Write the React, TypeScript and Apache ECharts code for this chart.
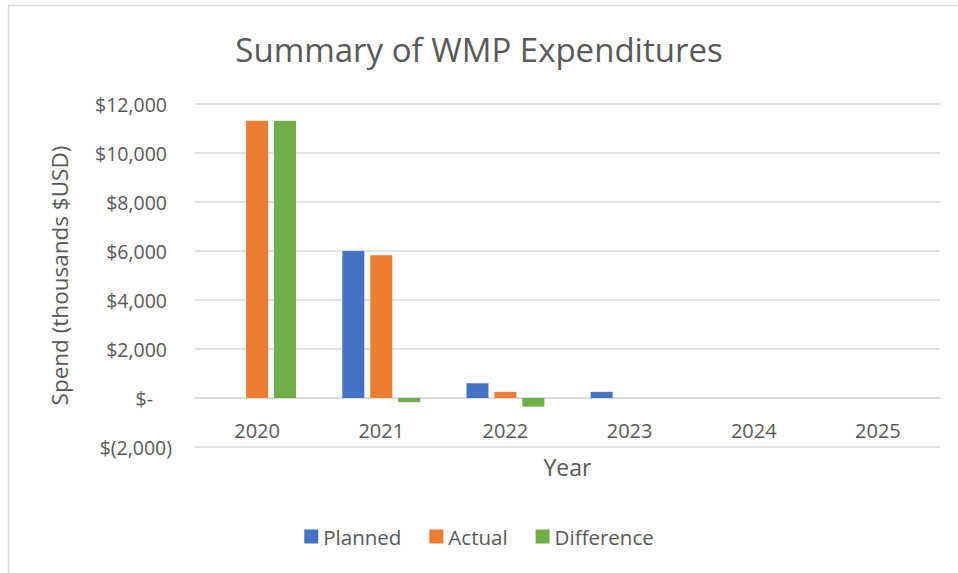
import React, { useEffect, useRef } from "react";
import * as echarts from "echarts";

const categories = ["2020", "2021", "2022", "2023", "2024", "2025"];
const planned = [0, 6000, 600, 250, 0, 0];
const actual: (number | null)[] = [11320, 5830, 250, null, null, null];
const difference: (number | null)[] = [11320, -170, -350, null, null, null];

const FONT = "'Open Sans', sans-serif";
const TXT = "#595959";

function fmt(v: number): string {
  if (v === 0) return "{z|$-}";
  const s = Math.abs(v).toLocaleString("en-US");
  return v < 0 ? `{n|$(${s})}` : `{p|$${s}}`;
}

export default function App() {
  const ref = useRef<HTMLDivElement>(null);
  useEffect(() => {
    document.body.style.margin = "0";
    const chart = echarts.init(ref.current!, null, { renderer: "svg" });
    const lbl = { color: TXT, fontSize: 19.5, fontFamily: FONT };
    chart.setOption({
      animation: false,
      backgroundColor: "#fff",
      textStyle: { fontFamily: FONT },
      title: {
        text: "Summary of WMP Expenditures",
        left: "center",
        top: 28,
        textStyle: { color: TXT, fontSize: 33, fontWeight: "normal", fontFamily: FONT },
      },
      graphic: [
        {
          type: "rect",
          shape: { x: 8.5, y: 5.5, width: 1000, height: 1000 },
          style: { fill: "none", stroke: "#d9d9d9", lineWidth: 1.5 },
          silent: true,
        },
      ],
      legend: {
        bottom: 21,
        left: "center",
        itemWidth: 14,
        itemHeight: 14,
        itemGap: 28,
        icon: "rect",
        textStyle: { color: TXT, fontSize: 20.5, fontFamily: FONT },
        data: ["Planned", "Actual", "Difference"],
      },
      grid: { left: 195, right: 18, top: 104, bottom: 126, containLabel: false },
      xAxis: {
        type: "category",
        data: categories,
        name: "Year",
        nameLocation: "middle",
        nameGap: 57,
        offset: -49,
        nameTextStyle: { color: TXT, fontSize: 23, fontFamily: FONT },
        axisLine: { onZero: false, lineStyle: { color: "#d9d9d9", width: 1.5 } },
        axisTick: { show: false },
        axisLabel: { color: TXT, fontSize: 20, margin: 22, fontFamily: FONT },
      },
      yAxis: {
        type: "value",
        min: -2000,
        max: 12000,
        interval: 2000,
        name: "Spend (thousands $USD)",
        nameLocation: "middle",
        nameGap: 124,
        nameRotate: 90,
        nameTextStyle: { color: TXT, fontSize: 22.5, fontFamily: FONT },
        axisLine: { show: false },
        axisTick: { show: false },
        splitLine: { lineStyle: { color: "#d9d9d9", width: 1.5 } },
        axisLabel: {
          ...lbl,
          margin: 23,
          formatter: fmt,
          rich: {
            p: { ...lbl, padding: [0, 5, 0, 0] },
            n: { ...lbl },
            z: { ...lbl, padding: [0, 19, 0, 0] },
          },
        },
      },
      series: [
        { name: "Planned", type: "bar", data: planned, barWidth: 22, barGap: "27%", itemStyle: { color: "#4472C4" } },
        { name: "Actual", type: "bar", data: actual, barWidth: 22, barGap: "27%", itemStyle: { color: "#ED7D31" } },
        { name: "Difference", type: "bar", data: difference, barWidth: 22, barGap: "27%", itemStyle: { color: "#70AD47" } },
      ],
    });
    return () => chart.dispose();
  }, []);
  return <div ref={ref} style={{ width: 958, height: 573 }} />;
}
